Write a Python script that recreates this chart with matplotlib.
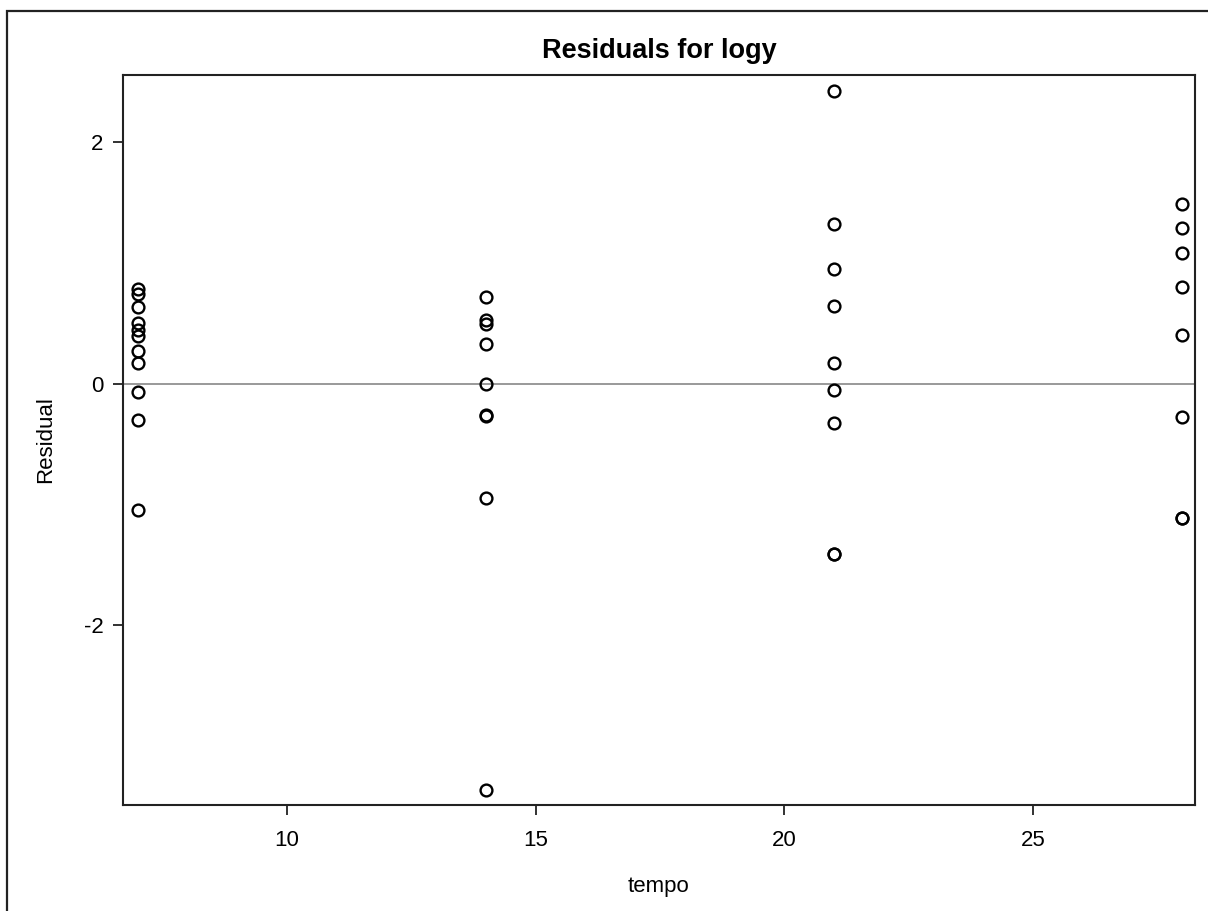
import matplotlib.pyplot as plt
from matplotlib.patches import Rectangle

plt.rcParams['font.family'] = ['Liberation Sans', 'DejaVu Sans']
plt.rcParams['axes.unicode_minus'] = False

# residuals for each tempo value
tempo_levels = [7, 14, 21, 28]
res_7 = [0.78, 0.74, 0.63, 0.50, 0.44, 0.39, 0.27, 0.17, -0.07, -0.30, -1.05]
res_14 = [0.72, 0.53, 0.49, 0.33, 0.00, -0.26, -0.27, -0.95, -3.37]
res_21 = [2.42, 1.32, 0.95, 0.64, 0.17, -0.05, -0.33, -1.41, -1.41]
res_28 = [1.49, 1.29, 1.08, 0.80, 0.40, -0.28, -1.11, -1.11]
residuals = [res_7, res_14, res_21, res_28]

fig = plt.figure(figsize=(12.08, 9.11), dpi=100)
ax = fig.add_axes([0.1018, 0.1164, 0.8874, 0.8013])

# outer frame (only left/top visible in the original)
fig.patches.append(Rectangle((7 / 1208, -0.1), 1.2, 1 - 11 / 911 + 0.1,
                             transform=fig.transFigure, fill=False,
                             edgecolor='#222222', linewidth=1.6))

ax.axhline(0, color='#888888', linewidth=1.2, zorder=1)

for t, r in zip(tempo_levels, residuals):
    ax.plot([t] * len(r), r, linestyle='none', marker='o', markersize=8.5,
            markerfacecolor='none', markeredgecolor='black',
            markeredgewidth=1.7, zorder=3)

ax.set_xlim(6.70, 28.26)
ax.set_ylim(-3.49, 2.555)
ax.set_xticks([10, 15, 20, 25])
ax.set_yticks([-2, 0, 2])

for s in ax.spines.values():
    s.set_linewidth(1.5)
    s.set_color('#222222')
ax.tick_params(direction='out', length=7, width=1.3, color='#222222',
               labelsize=16)
ax.tick_params(axis='x', pad=11)
ax.tick_params(axis='y', pad=7)

ax.set_title('Residuals for logy', fontsize=19.5, fontweight='bold', pad=12)
ax.set_xlabel('tempo', fontsize=16, labelpad=18)
ax.set_ylabel('Residual', fontsize=16, labelpad=20)

fig.savefig('out.png', dpi=100)
